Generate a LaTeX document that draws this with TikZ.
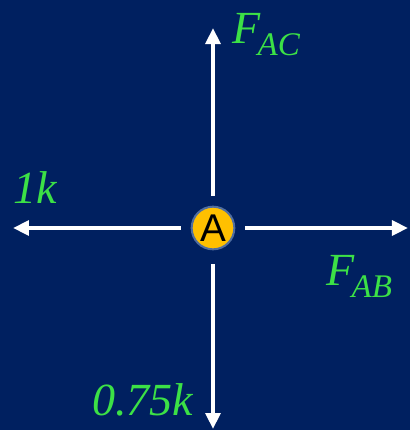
\documentclass[tikz,border=0pt]{standalone}
\usepackage{fontspec}
\setmainfont{Liberation Serif}
\newfontfamily\arialfont{Liberation Sans}
\usetikzlibrary{arrows.meta}
\definecolor{navy}{RGB}{0,32,96}
\definecolor{forcegreen}{RGB}{60,225,70}
\definecolor{ringblue}{RGB}{80,110,160}
\definecolor{jointgold}{RGB}{255,192,0}

\begin{document}
\begin{tikzpicture}[
    x=0.75pt, y=-0.75pt,
    joint/.style={
        circle,
        draw=ringblue,
        line width=1.5pt,
        fill=jointgold,
        minimum size=32pt,
        inner sep=0pt,
        outer sep=8pt,
        font=\arialfont\fontsize{29}{30}\selectfont
    },
    force/.style={-{Triangle[width=11pt,length=12pt]}, line width=3pt, white},
    lbl/.style={
        text=forcegreen,
        anchor=base west,
        inner sep=0pt,
        font=\itshape\fontsize{34.5}{36}\selectfont
    }
]

% Background
\fill[navy] (0,0) rectangle (410,430);
\useasboundingbox (0,0) rectangle (410,430);

% Joint
\node[joint] (A) at (213,228) {A};

% Free ends of the forces
\coordinate (tipAC) at (213,28);
\coordinate (tipAB) at (408,228);
\coordinate (tipL) at (13,228);
\coordinate (tipD) at (213,429);

% Forces
\draw[force] (A) -- (tipAC);
\draw[force] (A) -- (tipAB);
\draw[force] (A) -- (tipL);
\draw[force, shorten <=3pt] (A) -- (tipD);

% Labels
\node[lbl] (fac) at (232,43) {F\kern-2pt\raisebox{-9pt}{\fontsize{24.75}{26}\selectfont AC}};
\node[lbl] (one) at (13,203) {1k};
\node[lbl] (fab) at (326,285) {F\kern-2pt\raisebox{-9pt}{\fontsize{24.75}{26}\selectfont AB}};
\node[lbl] (qk) at (92,415) {0.75k};

\end{tikzpicture}
\end{document}
